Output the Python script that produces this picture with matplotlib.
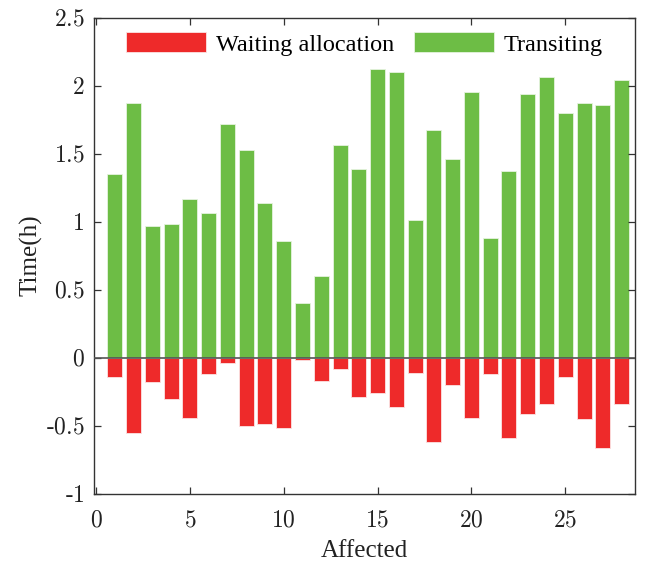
import numpy as np
import matplotlib
matplotlib.use("Agg")
import matplotlib.pyplot as plt
from matplotlib.ticker import FixedLocator, FuncFormatter

plt.rcParams['font.family'] = ['Liberation Serif', 'DejaVu Serif']
plt.rcParams['mathtext.fontset'] = 'cm'

# data
affected = np.arange(1, 29)
transiting = [1.35, 1.87, 0.97, 0.98, 1.17, 1.06, 1.72, 1.53, 1.14, 0.86,
              0.40, 0.60, 1.56, 1.39, 2.12, 2.10, 1.01, 1.67, 1.46, 1.95,
              0.88, 1.37, 1.94, 2.06, 1.80, 1.87, 1.86, 2.04]
waiting = [-0.14, -0.55, -0.18, -0.30, -0.44, -0.12, -0.04, -0.50, -0.49, -0.52,
           -0.02, -0.17, -0.08, -0.29, -0.26, -0.36, -0.11, -0.62, -0.20, -0.44,
           -0.12, -0.59, -0.41, -0.34, -0.14, -0.45, -0.66, -0.34]
xticks = [0, 5, 10, 15, 20, 25]
yticks = [-1, -0.5, 0, 0.5, 1, 1.5, 2, 2.5]

red = '#EE2A2A'
green = '#6DBD45'
spine_col = '#333333'

fig = plt.figure(figsize=(6.45, 5.65), dpi=100)
ax = fig.add_axes([0.146, 0.126, 0.838, 0.843])

ax.bar(affected, waiting, width=0.8, color=red, edgecolor='#FBE3E3',
       linewidth=0.6, label='Waiting allocation')
ax.bar(affected, transiting, width=0.8, color=green, edgecolor='#E6F3DF',
       linewidth=0.6, label='Transiting')
ax.axhline(0, color='#555555', linewidth=1.2, zorder=3)

ax.set_xlim(-0.1, 28.7)
ax.set_ylim(-1, 2.5)
ax.xaxis.set_major_locator(FixedLocator(xticks))
ax.yaxis.set_major_locator(FixedLocator(yticks))


def fmt(v, pos):
    s = ('%g' % v).replace('-', '{\\text{-}}')
    return '$%s$' % s


ax.xaxis.set_major_formatter(FuncFormatter(fmt))
ax.yaxis.set_major_formatter(FuncFormatter(fmt))
ax.tick_params(direction='in', top=True, right=True, length=5, width=0.9,
               color=spine_col, labelsize=17, labelcolor='#222222')
ax.tick_params(axis='x', pad=12)
ax.tick_params(axis='y', pad=7)
for sp in ax.spines.values():
    sp.set_color(spine_col)
    sp.set_linewidth(1.0)

ax.set_xlabel('Affected', fontsize=18, color='#222222', labelpad=6)
ax.set_ylabel('Time(h)', fontsize=18, color='#222222', labelpad=2)

ax.legend(loc='upper center', ncol=2, frameon=False, fontsize=17.5,
          handlelength=3.3, handleheight=0.9, columnspacing=0.8,
          handletextpad=0.4, bbox_to_anchor=(0.5, 1.0), borderaxespad=0.2)

fig.savefig('out.png', dpi=100)
